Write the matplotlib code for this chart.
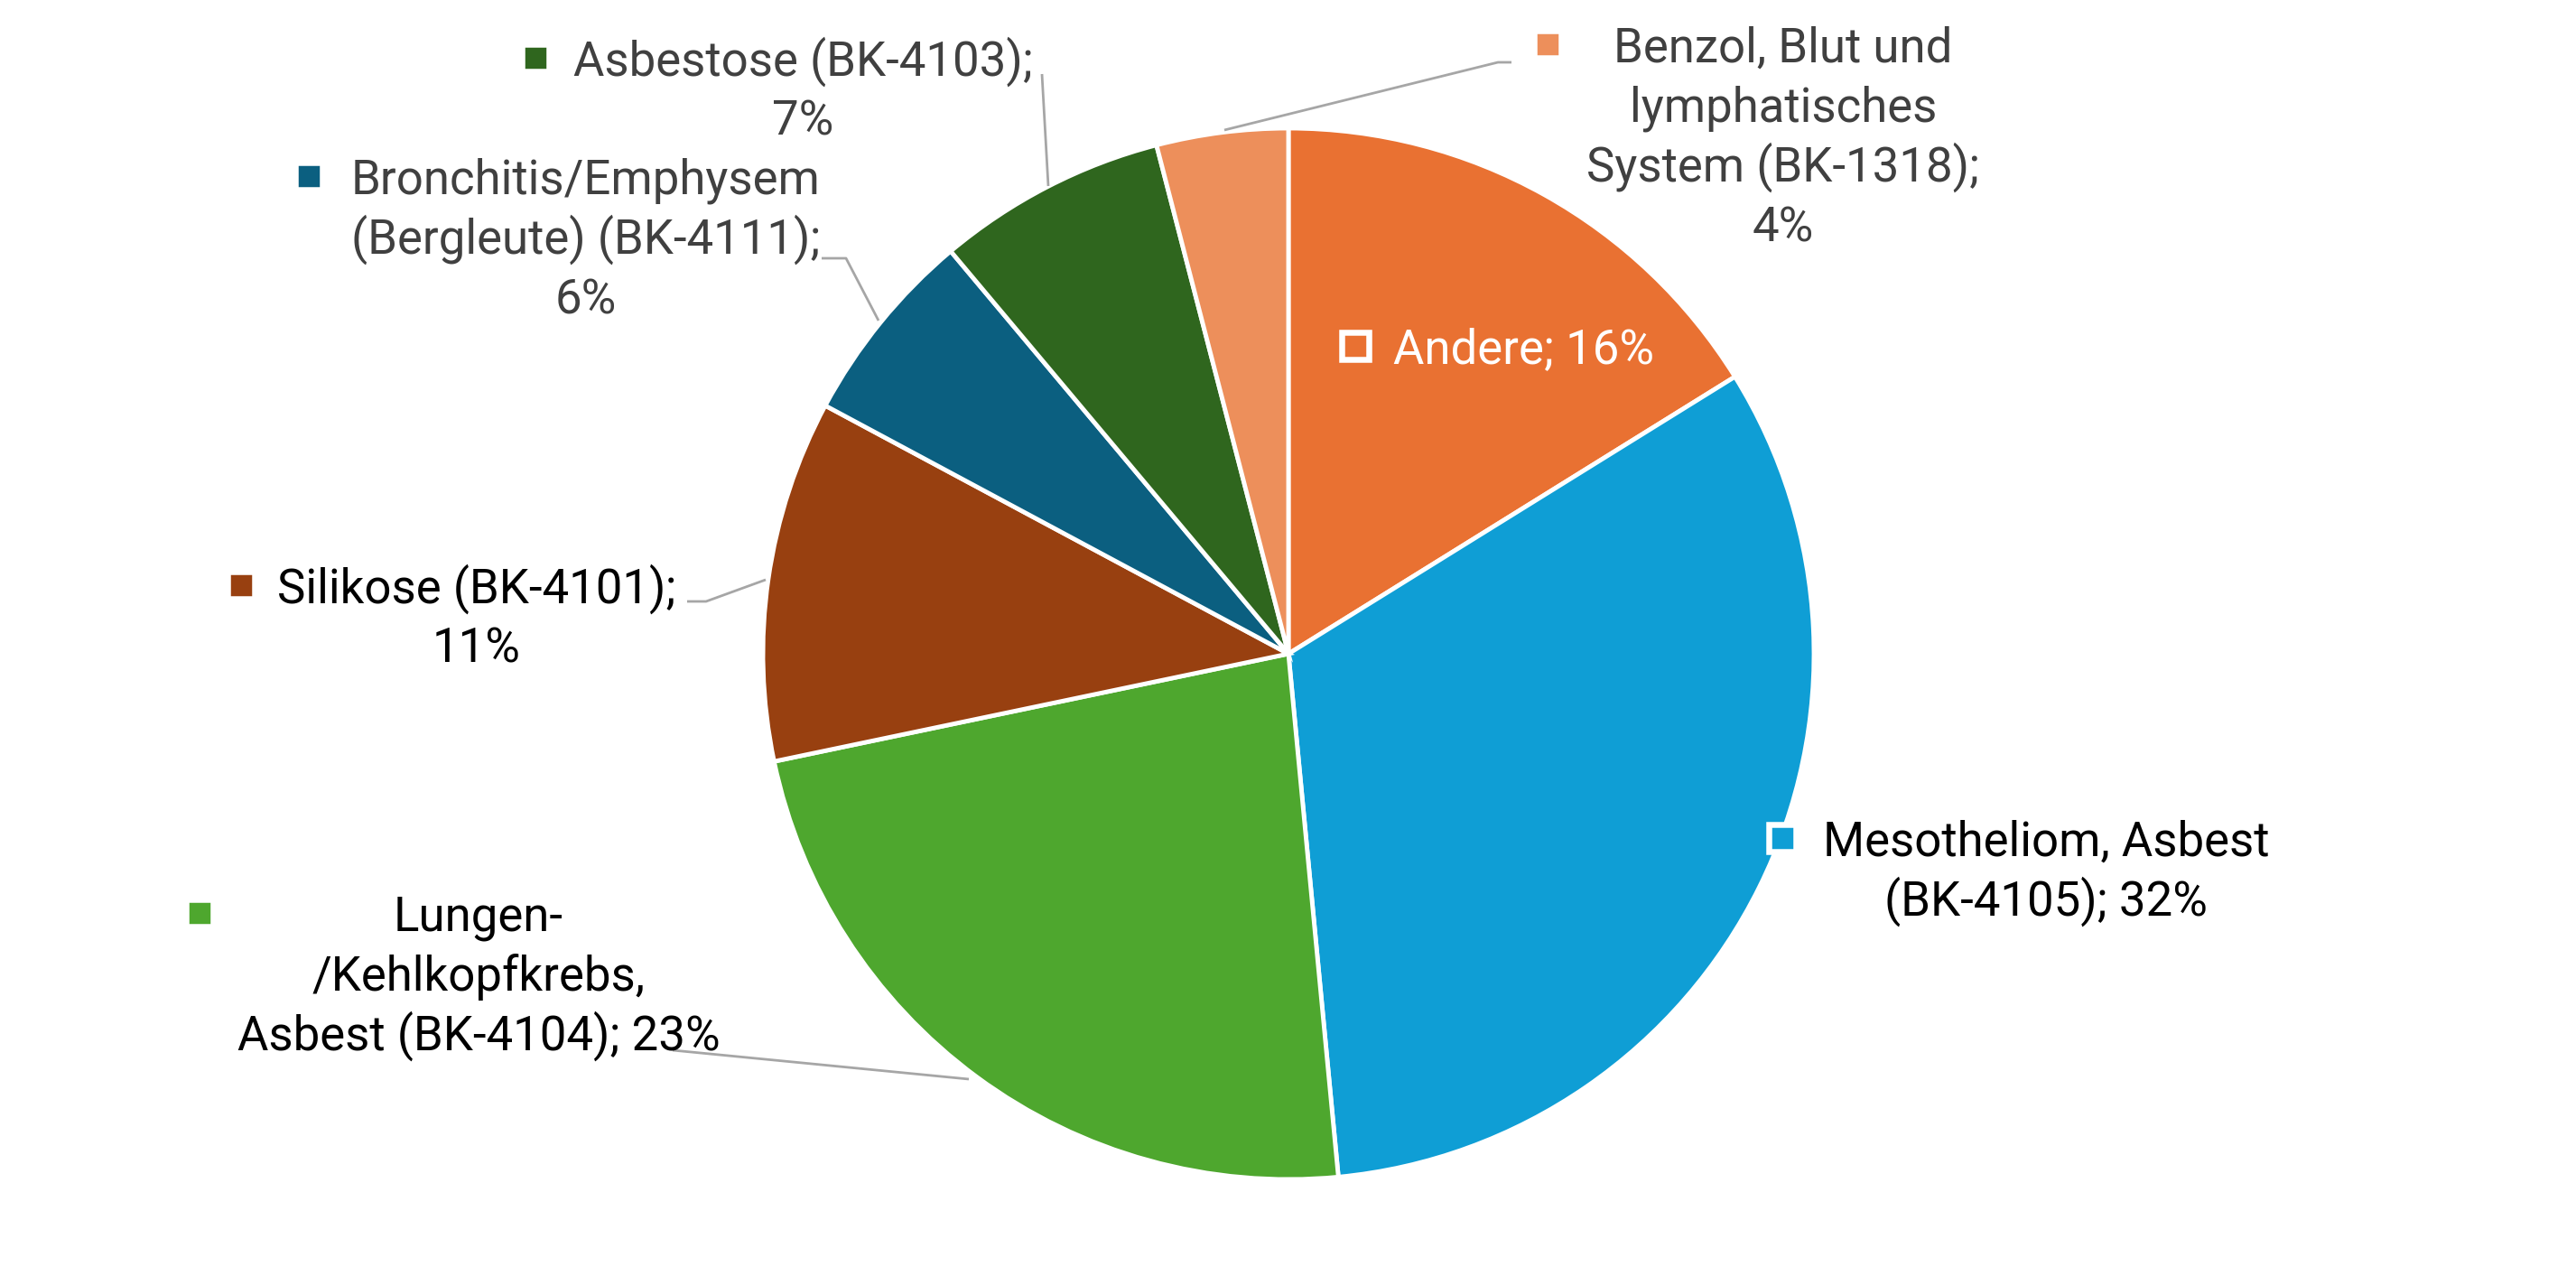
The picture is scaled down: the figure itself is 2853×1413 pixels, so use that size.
import matplotlib
matplotlib.use("Agg")
import matplotlib.pyplot as plt
from matplotlib.patches import Rectangle

# ---------------- data ----------------
categories = [
    "Andere",
    "Mesotheliom, Asbest (BK-4105)",
    "Lungen-/Kehlkopfkrebs, Asbest (BK-4104)",
    "Silikose (BK-4101)",
    "Bronchitis/Emphysem (Bergleute) (BK-4111)",
    "Asbestose (BK-4103)",
    "Benzol, Blut und lymphatisches System (BK-1318)",
]
values = [16, 32, 23, 11, 6, 7, 4]
label_lines = [
    ["Andere; 16%"],
    ["Mesotheliom, Asbest", "(BK-4105); 32%"],
    ["Lungen-", "/Kehlkopfkrebs,", "Asbest (BK-4104); 23%"],
    ["Silikose (BK-4101);", "11%"],
    ["Bronchitis/Emphysem", "(Bergleute) (BK-4111);", "6%"],
    ["Asbestose (BK-4103);", "7%"],
    ["Benzol, Blut und", "lymphatisches", "System (BK-1318);", "4%"],
]

# ---------------- style ----------------
colors = ["#E97132", "#0F9ED5", "#4EA72E", "#984010", "#0B5F80", "#2F661E", "#ED8F5B"]
text_colors = ["white", "black", "black", "black", "#404040", "#404040", "#404040"]

W, H = 2853, 1413
CX, CY, R = 1427, 724, 582
FS = 38
LINE = 66

# layout (pixel coords, y downwards): marker centre, text x, first baseline, align
layout = [
    dict(marker=(1501, 383), tx=1543, base=402, ha="left"),
    dict(marker=(1974, 928), tx=2266, base=948, ha="center"),
    dict(marker=(221, 1011), tx=530, base=1031, ha="center"),
    dict(marker=(267, 648), tx=528, base=668, ha="center"),
    dict(marker=(342, 195), tx=649, base=215, ha="center"),
    dict(marker=(593, 64), tx=889, base=84, ha="center"),
    dict(marker=(1714, 49), tx=1975, base=69, ha="center"),
]
leaders = [
    None,
    None,
    [(745, 1163), (1073, 1195)],
    [(761, 666), (782, 666), (848, 642)],
    [(910, 286), (937, 286), (973, 355)],
    [(1154, 82), (1161, 206)],
    [(1674, 69), (1659, 69), (1356, 144)],
]

plt.rcParams["font.family"] = ["Roboto", "DejaVu Sans"]

fig = plt.figure(figsize=(W / 100, H / 100), dpi=100)
ax = fig.add_axes([0, 0, 1, 1])

ax.pie(values, colors=colors, startangle=-90, counterclock=True,
       center=(CX, CY), radius=R,
       wedgeprops=dict(edgecolor="white", linewidth=3.5, antialiased=True))
ax.set_xlim(0, W)
ax.set_ylim(H, 0)
ax.set_aspect("auto")
ax.axis("off")

msize = 29.5
for i, lay in enumerate(layout):
    mx, my = lay["marker"]
    ax.add_patch(Rectangle((mx - msize / 2, my - msize / 2), msize, msize,
                           facecolor=colors[i], edgecolor="white",
                           linewidth=4.7, zorder=5))
    for j, line in enumerate(label_lines[i]):
        ax.text(lay["tx"], lay["base"] + j * LINE, line, ha=lay["ha"],
                va="baseline", fontsize=FS, color=text_colors[i], zorder=6)
    if leaders[i]:
        xs = [p[0] for p in leaders[i]]
        ys = [p[1] for p in leaders[i]]
        ax.plot(xs, ys, color="#A6A6A6", linewidth=2, zorder=4,
                solid_capstyle="butt")

fig.savefig("out.png", dpi=100, facecolor="white")
